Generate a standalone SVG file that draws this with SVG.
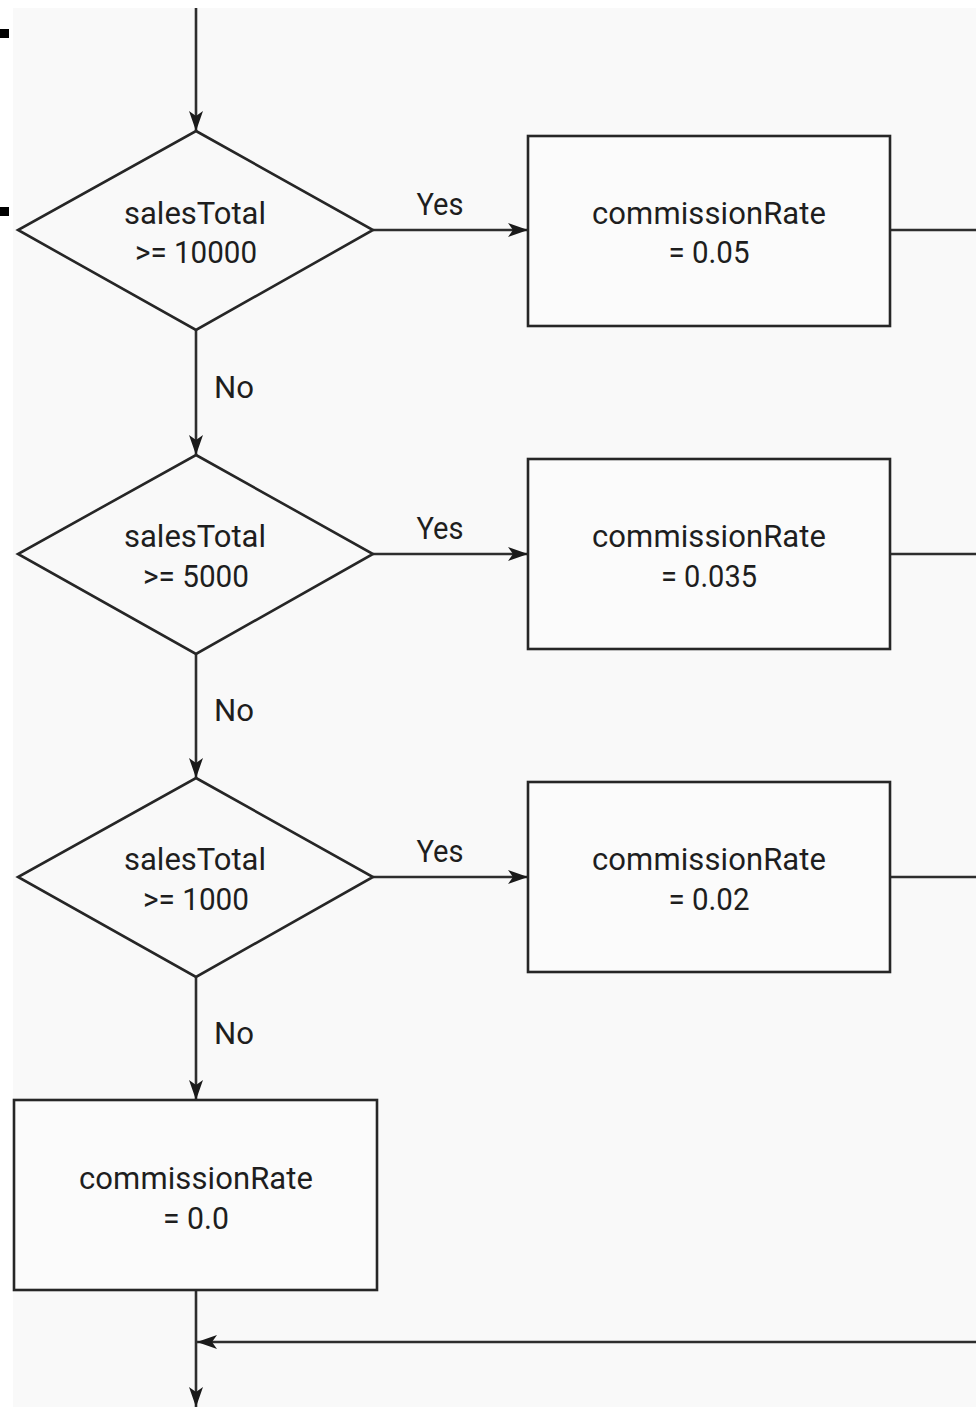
<svg xmlns="http://www.w3.org/2000/svg" width="976" height="1407" viewBox="0 0 976 1407">
  <style>
    .shape { fill: none; stroke: #262626; stroke-width: 2.6; }
    .box { fill: #fbfbfb; stroke: #262626; stroke-width: 2.6; }
    .wire { fill: none; stroke: #2e2e2e; stroke-width: 2.6; }
    .t { font-family: Roboto, "Liberation Sans", Arial, sans-serif; font-size: 31px; fill: #1e1e1e; text-anchor: middle; }
  </style>
  <defs>
    <marker id="arrow" viewBox="0 0 20 14" refX="20" refY="7" markerWidth="20" markerHeight="14" markerUnits="userSpaceOnUse" orient="auto">
      <path d="M0,0 L20,7 L0,14 L5,7 Z" fill="#1a1a1a"/>
    </marker>
  </defs>

  <!-- page -->
  <rect x="0" y="0" width="976" height="1407" fill="#ffffff"/>
  <rect x="13" y="8" width="963" height="1399" fill="#f9f9f9"/>
  <rect x="0" y="29" width="9" height="9" fill="#000"/>
  <rect x="0" y="207" width="9" height="9" fill="#000"/>

  <!-- connectors -->
  <g id="connectors">
    <line class="wire" x1="196" y1="8" x2="196" y2="131" marker-end="url(#arrow)"/>
    <line class="wire" x1="373" y1="230" x2="528" y2="230" marker-end="url(#arrow)"/>
    <line class="wire" x1="196" y1="330" x2="196" y2="455" marker-end="url(#arrow)"/>
    <line class="wire" x1="373" y1="554" x2="528" y2="554" marker-end="url(#arrow)"/>
    <line class="wire" x1="196" y1="654" x2="196" y2="778" marker-end="url(#arrow)"/>
    <line class="wire" x1="373" y1="877" x2="528" y2="877" marker-end="url(#arrow)"/>
    <line class="wire" x1="196" y1="977" x2="196" y2="1100" marker-end="url(#arrow)"/>
    <line class="wire" x1="890" y1="230" x2="976" y2="230"/>
    <line class="wire" x1="890" y1="554" x2="976" y2="554"/>
    <line class="wire" x1="890" y1="877" x2="976" y2="877"/>
    <line class="wire" x1="976" y1="1342" x2="197" y2="1342" marker-end="url(#arrow)"/>
    <line class="wire" x1="196" y1="1290" x2="196" y2="1407" marker-end="url(#arrow)"/>
    <text class="t" x="440" y="215" textLength="47" lengthAdjust="spacingAndGlyphs">Yes</text>
    <text class="t" x="440" y="539" textLength="47" lengthAdjust="spacingAndGlyphs">Yes</text>
    <text class="t" x="440" y="862" textLength="47" lengthAdjust="spacingAndGlyphs">Yes</text>
    <text class="t" x="234" y="398" textLength="40" lengthAdjust="spacingAndGlyphs">No</text>
    <text class="t" x="234" y="721" textLength="40" lengthAdjust="spacingAndGlyphs">No</text>
    <text class="t" x="234" y="1044" textLength="40" lengthAdjust="spacingAndGlyphs">No</text>
  </g>

  <!-- decisions -->
  <g id="check-10000">
    <polygon class="shape" points="196,131 373,230 196,330 18,230"/>
    <text class="t" x="195" y="224" textLength="142" lengthAdjust="spacing">salesTotal</text>
    <text class="t" x="196" y="263" textLength="122" lengthAdjust="spacingAndGlyphs">&gt;= 10000</text>
  </g>
  <g id="check-5000">
    <polygon class="shape" points="196,455 373,554 196,654 18,554"/>
    <text class="t" x="195" y="547" textLength="142" lengthAdjust="spacing">salesTotal</text>
    <text class="t" x="196" y="587" textLength="106" lengthAdjust="spacingAndGlyphs">&gt;= 5000</text>
  </g>
  <g id="check-1000">
    <polygon class="shape" points="196,778 373,877 196,977 18,877"/>
    <text class="t" x="195" y="870" textLength="142" lengthAdjust="spacing">salesTotal</text>
    <text class="t" x="196" y="910" textLength="106" lengthAdjust="spacingAndGlyphs">&gt;= 1000</text>
  </g>

  <!-- assignments -->
  <g id="rate-005">
    <rect class="box" x="528" y="136" width="362" height="190"/>
    <text class="t" x="709" y="224" textLength="234" lengthAdjust="spacing">commissionRate</text>
    <text class="t" x="709" y="263" textLength="81" lengthAdjust="spacingAndGlyphs">= 0.05</text>
  </g>
  <g id="rate-0035">
    <rect class="box" x="528" y="459" width="362" height="190"/>
    <text class="t" x="709" y="547" textLength="234" lengthAdjust="spacing">commissionRate</text>
    <text class="t" x="709" y="587" textLength="96" lengthAdjust="spacingAndGlyphs">= 0.035</text>
  </g>
  <g id="rate-002">
    <rect class="box" x="528" y="782" width="362" height="190"/>
    <text class="t" x="709" y="870" textLength="234" lengthAdjust="spacing">commissionRate</text>
    <text class="t" x="709" y="910" textLength="81" lengthAdjust="spacingAndGlyphs">= 0.02</text>
  </g>
  <g id="rate-00">
    <rect class="box" x="14" y="1100" width="363" height="190"/>
    <text class="t" x="196" y="1189" textLength="234" lengthAdjust="spacing">commissionRate</text>
    <text class="t" x="196" y="1229" textLength="66" lengthAdjust="spacingAndGlyphs">= 0.0</text>
  </g>
</svg>
